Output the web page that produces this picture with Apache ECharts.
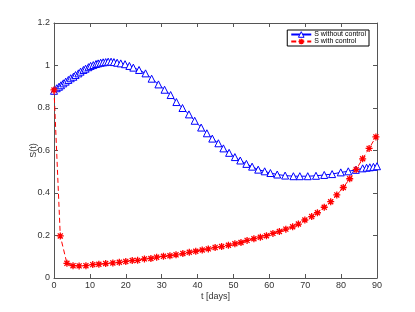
<!DOCTYPE html>
<html><head><meta charset="utf-8">
<script src="https://cdn.jsdelivr.net/npm/echarts@6/dist/echarts.min.js"></script>
<style>html,body{margin:0;padding:0;background:#fff}#c{width:415px;height:312px}</style>
</head><body><div id="c"></div>
<script>
var xTicks = [0,10,20,30,40,50,60,70,80,90];
var yTicks = [0,0.2,0.4,0.6,0.8,1,1.2];
var seriesNames = ['S without control','S with control'];
var tBlue = [0,0.75,1.39,1.95,2.6,3.25,4.0,4.65,5.4,6.0,6.8,7.4,8.2,8.8,9.6,10.2,10.95,11.7,12.3,13.0,13.7,14.4,15.1,15.9,16.7,17.6,18.6,19.8,21.0,22.1,23.7,25.5,27.2,29.1,30.8,32.5,34.1,35.8,37.6,39.2,41.0,42.6,44.1,45.8,47.2,48.8,50.4,51.9,53.6,55.2,56.9,58.7,60.3,62.2,64.4,66.7,68.5,70.7,73.0,75.3,77.5,79.9,82.0,84.1,86.0,87.1,88.0,89.0,90.0];
var sBlue = [0.881,0.893,0.900,0.907,0.916,0.924,0.932,0.940,0.947,0.955,0.963,0.971,0.979,0.985,0.992,0.998,1.002,1.007,1.010,1.013,1.015,1.016,1.018,1.018,1.016,1.013,1.010,1.006,0.998,0.990,0.979,0.963,0.938,0.911,0.886,0.861,0.828,0.800,0.770,0.740,0.708,0.681,0.656,0.634,0.610,0.589,0.569,0.553,0.537,0.524,0.510,0.502,0.494,0.487,0.482,0.479,0.479,0.479,0.481,0.485,0.489,0.497,0.502,0.509,0.516,0.519,0.521,0.523,0.526];
var tRed = [0,1.75,3.6,5.3,7.0,8.9,10.8,12.5,14.4,16.4,18.2,20.0,21.8,23.3,25.2,27.0,28.6,30.5,32.3,34.0,35.9,37.7,39.5,41.3,43.0,44.9,46.7,48.6,50.4,52.1,53.8,55.7,57.5,59.2,61.0,62.8,64.6,66.5,68.1,69.9,71.8,73.4,75.3,77.1,78.8,80.6,82.4,84.2,86.0,87.8,89.7];
var sRed = [0.885,0.198,0.069,0.058,0.057,0.058,0.063,0.065,0.068,0.071,0.074,0.078,0.082,0.083,0.090,0.092,0.098,0.102,0.105,0.109,0.115,0.121,0.126,0.132,0.137,0.144,0.148,0.154,0.161,0.167,0.177,0.185,0.192,0.199,0.210,0.219,0.230,0.241,0.254,0.273,0.289,0.307,0.333,0.359,0.391,0.426,0.467,0.511,0.561,0.610,0.664];

function zip(a,b){return a.map(function(v,i){return [v,b[i]];});}
var font = 'Liberation Sans, Arial, sans-serif';
var axisCol = '#555';
var chart = echarts.init(document.getElementById('c'), null, {renderer:'canvas'});
var starPath = 'path://M0,-5L0,5M-5,0L5,0M-3.6,-3.6L3.6,3.6M-3.6,3.6L3.6,-3.6';
function xAx(pos, show){
  return {type:'value', position:pos, min:xTicks[0], max:xTicks[xTicks.length-1], interval:10,
    name: show ? 't [days]' : '', nameLocation:'middle', nameGap:14, nameMoveOverlap:false,
    nameTextStyle:{fontFamily:font,fontSize:9,color:'#333'},
    axisLine:{show:true,onZero:false,lineStyle:{color:axisCol,width:1}},
    axisTick:{show:true,inside:true,length:4,lineStyle:{color:axisCol}},
    axisLabel:{show:show,fontFamily:font,fontSize:9,color:'#333',margin:3},
    splitLine:{show:false}};
}
function yAx(pos, show){
  return {type:'value', position:pos, min:yTicks[0], max:yTicks[yTicks.length-1], interval:0.2,
    name: show ? 'S(t)' : '', nameLocation:'middle', nameGap:16, nameRotate:90, nameMoveOverlap:false,
    nameTextStyle:{fontFamily:font,fontSize:9,color:'#333'},
    axisLine:{show:true,onZero:false,lineStyle:{color:axisCol,width:1}},
    axisTick:{show:true,inside:true,length:4,lineStyle:{color:axisCol}},
    axisLabel:{show:show,fontFamily:font,fontSize:9,color:'#333',margin:4},
    splitLine:{show:false}};
}
chart.setOption({
  animation:false,
  backgroundColor:'#fff',
  grid:{left:54,right:38,top:23,bottom:34},
  legend:{
    show:true, orient:'vertical', right:46, top:30,
    data:[
      {name:seriesNames[0], itemStyle:{color:'#ffffff',borderColor:'#0000ff',borderWidth:1}},
      {name:seriesNames[1], itemStyle:{color:'#ff0000',borderColor:'#ff0000',borderWidth:1.3}}
    ],
    itemWidth:20, itemHeight:7, itemGap:0,
    padding:[1,3,1,3],
    borderColor:'#000', borderWidth:1, backgroundColor:'#fff',
    textStyle:{fontFamily:font,fontSize:7,color:'#000',padding:[0,0,0,-2]}
  },
  xAxis:[xAx('bottom',true), xAx('top',false)],
  yAxis:[yAx('left',true), yAx('right',false)],
  series:[
    {name:seriesNames[0], type:'line', data:zip(tBlue,sBlue),
      symbol:'triangle', symbolSize:7,
      lineStyle:{color:'#0000ff',width:1},
      itemStyle:{color:'#ffffff',borderColor:'#0000ff',borderWidth:1},
      z:2},
    {name:seriesNames[1], type:'line', data:zip(tRed,sRed),
      symbol:starPath, symbolSize:7,
      lineStyle:{color:'#ff0000',width:1,type:[5,3]},
      itemStyle:{color:'#ff0000',borderColor:'#ff0000',borderWidth:1.3},
      z:3}
  ]
});
</script></body></html>
